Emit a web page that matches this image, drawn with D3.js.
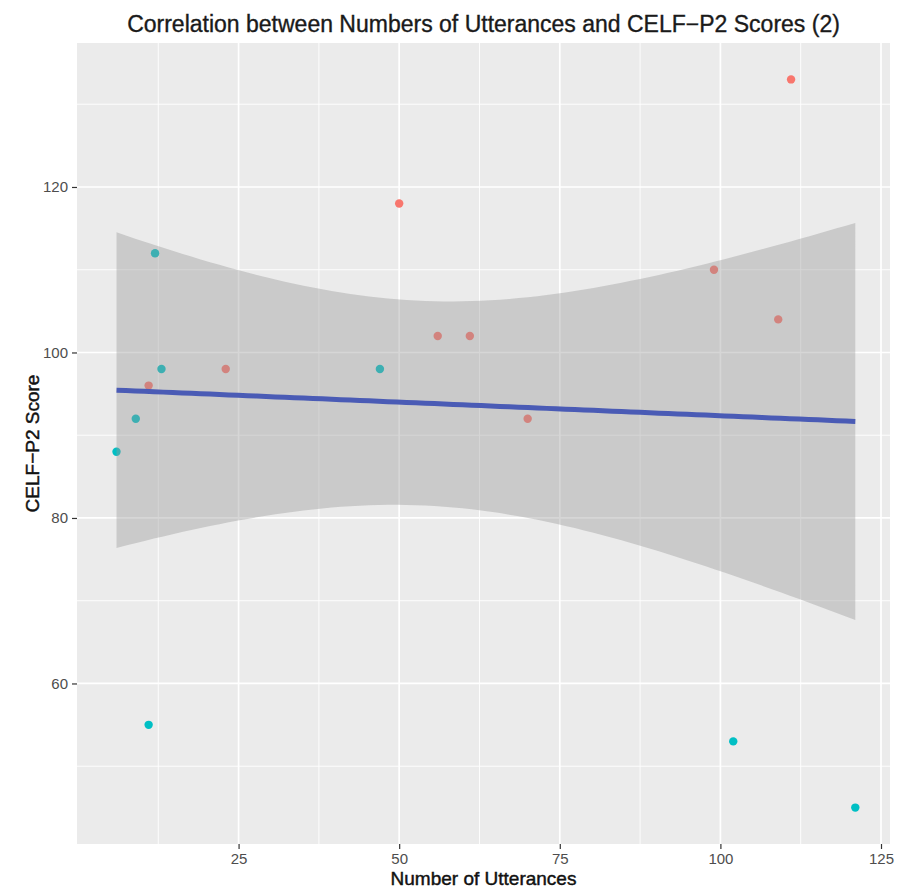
<!DOCTYPE html>
<html>
<head>
<meta charset="utf-8">
<script src="https://cdn.jsdelivr.net/npm/d3@7"></script>
<style>
  html, body { margin: 0; padding: 0; background: #ffffff; }
  svg { display: block; font-family: "Liberation Sans", Arial, sans-serif; }
</style>
</head>
<body>
<svg id="chart" width="906" height="894"></svg>
<script>
// Children in group 1 (red) and group 2 (teal): utterance counts and CELF-P2 scores
const group1Utterances = [11, 23, 50, 56, 61, 70, 99, 109, 111];
const group1Scores     = [96, 98, 118, 102, 102, 92, 110, 104, 133];
const group2Utterances = [6, 9, 11, 12, 13, 47, 102, 121];
const group2Scores     = [88, 92, 55, 112, 98, 98, 53, 45];

const xTicks = [25, 50, 75, 100, 125];
const yTicks = [60, 80, 100, 120];
const xMinor = [12.5, 37.5, 62.5, 87.5, 112.5];
const yMinor = [50, 70, 90, 110, 130];

const titleText = "Correlation between Numbers of Utterances and CELF\u2212P2 Scores (2)";
const xTitle = "Number of Utterances";
const yTitle = "CELF\u2212P2 Score";

const groupColors = ["#F8766D", "#00BFC4"];

const svg = d3.select("#chart");
const panel = { left: 77, right: 890, top: 43, bottom: 844 };

// All points together, for the linear fit
const allX = group1Utterances.concat(group2Utterances);
const allY = group1Scores.concat(group2Scores);

const x = d3.scaleLinear().domain([-0.15, 126.4]).range([panel.left, panel.right]);
const yExt = d3.extent(allY);
const yPad = (yExt[1] - yExt[0]) * 0.05;
const y = d3.scaleLinear().domain([yExt[0] - yPad, yExt[1] + yPad]).range([panel.bottom, panel.top]);

// Panel background and grid
svg.append("rect")
  .attr("x", panel.left).attr("y", panel.top)
  .attr("width", panel.right - panel.left).attr("height", panel.bottom - panel.top)
  .attr("fill", "#EBEBEB");

const grid = svg.append("g");
grid.selectAll(".vminor").data(xMinor).join("line")
  .attr("x1", d => x(d)).attr("x2", d => x(d))
  .attr("y1", panel.top).attr("y2", panel.bottom)
  .attr("stroke", "#ffffff").attr("stroke-width", 0.9);
grid.selectAll(".hminor").data(yMinor).join("line")
  .attr("y1", d => y(d)).attr("y2", d => y(d))
  .attr("x1", panel.left).attr("x2", panel.right)
  .attr("stroke", "#ffffff").attr("stroke-width", 0.9);
grid.selectAll(".vmajor").data(xTicks).join("line")
  .attr("x1", d => x(d)).attr("x2", d => x(d))
  .attr("y1", panel.top).attr("y2", panel.bottom)
  .attr("stroke", "#ffffff").attr("stroke-width", 1.7);
grid.selectAll(".hmajor").data(yTicks).join("line")
  .attr("y1", d => y(d)).attr("y2", d => y(d))
  .attr("x1", panel.left).attr("x2", panel.right)
  .attr("stroke", "#ffffff").attr("stroke-width", 1.7);

// Points
const groups = [
  { xs: group1Utterances, ys: group1Scores, color: groupColors[0] },
  { xs: group2Utterances, ys: group2Scores, color: groupColors[1] }
];
groups.forEach(g => {
  svg.append("g").selectAll("circle")
    .data(g.xs.map((v, i) => [v, g.ys[i]]))
    .join("circle")
    .attr("cx", d => x(d[0])).attr("cy", d => y(d[1]))
    .attr("r", 4.2)
    .attr("fill", g.color);
});

// Ordinary least squares fit with a 95% confidence band
const n = allX.length;
const mx = d3.mean(allX), my = d3.mean(allY);
let sxx = 0, sxy = 0;
for (let i = 0; i < n; i++) {
  sxx += (allX[i] - mx) ** 2;
  sxy += (allX[i] - mx) * (allY[i] - my);
}
const slope = sxy / sxx;
const intercept = my - slope * mx;
let rss = 0;
for (let i = 0; i < n; i++) rss += (allY[i] - (intercept + slope * allX[i])) ** 2;
const df = n - 2;
const sigma = Math.sqrt(rss / df);

// Student t quantile by bisection on a numerically integrated CDF
function lgamma(z) {
  const c = [76.18009172947146, -86.50532032941677, 24.01409824083091,
             -1.231739572450155, 0.1208650973866179e-2, -0.5395239384953e-5];
  let xx = z, yy = z, tmp = xx + 5.5;
  tmp -= (xx + 0.5) * Math.log(tmp);
  let ser = 1.000000000190015;
  for (let j = 0; j < 6; j++) ser += c[j] / ++yy;
  return -tmp + Math.log(2.5066282746310005 * ser / xx);
}
function tDensity(t, v) {
  return Math.exp(lgamma((v + 1) / 2) - lgamma(v / 2)) / Math.sqrt(v * Math.PI) *
         Math.pow(1 + t * t / v, -(v + 1) / 2);
}
function tCdfPositive(t, v) {
  const steps = 2000, h = t / steps;
  let s = tDensity(0, v) + tDensity(t, v);
  for (let k = 1; k < steps; k++) s += (k % 2 ? 4 : 2) * tDensity(k * h, v);
  return 0.5 + s * h / 3;
}
function tQuantile(p, v) {
  let lo = 0, hi = 20;
  for (let k = 0; k < 60; k++) {
    const mid = (lo + hi) / 2;
    if (tCdfPositive(mid, v) < p) lo = mid; else hi = mid;
  }
  return (lo + hi) / 2;
}
const tCrit = tQuantile(0.975, df);

const xExt = d3.extent(allX);
const fitX = d3.range(80).map(k => xExt[0] + (xExt[1] - xExt[0]) * k / 79);
const fit = fitX.map(xv => {
  const yhat = intercept + slope * xv;
  const se = sigma * Math.sqrt(1 / n + (xv - mx) ** 2 / sxx);
  return { x: xv, y: yhat, lo: yhat - tCrit * se, hi: yhat + tCrit * se };
});

svg.append("path")
  .datum(fit)
  .attr("d", d3.area().x(d => x(d.x)).y0(d => y(d.lo)).y1(d => y(d.hi)))
  .attr("fill", "#999999").attr("fill-opacity", 0.4);

svg.append("path")
  .datum(fit)
  .attr("d", d3.line().x(d => x(d.x)).y(d => y(d.y)))
  .attr("fill", "none").attr("stroke", "#4A5BB5").attr("stroke-width", 5);

// Axes
const xAxis = d3.axisBottom(x).tickValues(xTicks).tickSize(5).tickPadding(4);
const gx = svg.append("g").attr("transform", `translate(0,${panel.bottom})`).call(xAxis);
gx.select(".domain").remove();
gx.selectAll(".tick line").attr("stroke", "#333333").attr("stroke-width", 1.2);
gx.selectAll(".tick text").attr("fill", "#4D4D4D").attr("font-size", 15)
  .attr("font-family", "Liberation Sans, Arial, sans-serif");

const yAxis = d3.axisLeft(y).tickValues(yTicks).tickSize(5).tickPadding(4);
const gy = svg.append("g").attr("transform", `translate(${panel.left},0)`).call(yAxis);
gy.select(".domain").remove();
gy.selectAll(".tick line").attr("stroke", "#333333").attr("stroke-width", 1.2);
gy.selectAll(".tick text").attr("fill", "#4D4D4D").attr("font-size", 15)
  .attr("font-family", "Liberation Sans, Arial, sans-serif");

// Titles
const cx = (panel.left + panel.right) / 2;
svg.append("text")
  .attr("x", cx).attr("y", 32)
  .attr("text-anchor", "middle")
  .attr("font-size", 23).attr("fill", "#1A1A1A")
  .attr("stroke", "#1A1A1A").attr("stroke-width", 0.35)
  .text(titleText);

svg.append("text")
  .attr("x", cx).attr("y", 885)
  .attr("text-anchor", "middle")
  .attr("font-size", 19).attr("fill", "#111111")
  .attr("stroke", "#111111").attr("stroke-width", 0.45)
  .text(xTitle);

svg.append("text")
  .attr("transform", `translate(39,${(panel.top + panel.bottom) / 2}) rotate(-90)`)
  .attr("text-anchor", "middle")
  .attr("font-size", 19).attr("fill", "#111111")
  .attr("stroke", "#111111").attr("stroke-width", 0.45)
  .text(yTitle);
</script>
</body>
</html>
